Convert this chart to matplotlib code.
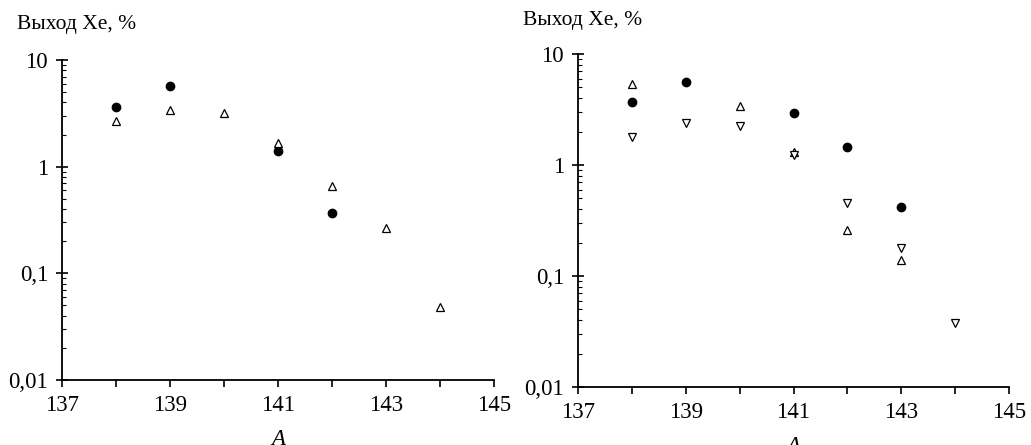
import matplotlib.pyplot as plt
from matplotlib.ticker import FixedLocator, LogLocator, NullFormatter

plt.rcParams['font.family'] = ['Liberation Serif', 'DejaVu Serif']

# left panel
a_left_circ = [138, 139, 141, 142]
y_left_circ = [3.6, 5.75, 1.40, 0.366]
a_left_up = [138, 139, 140, 141, 142, 143, 144]
y_left_up = [2.7, 3.42, 3.16, 1.66, 0.66, 0.268, 0.048]

# right panel
a_right_circ = [138, 139, 141, 142, 143]
y_right_circ = [3.69, 5.62, 2.93, 1.44, 0.416]
a_right_up = [138, 140, 141, 142, 143]
y_right_up = [5.36, 3.37, 1.32, 0.26, 0.139]
a_right_down = [138, 139, 140, 141, 142, 143, 144]
y_right_down = [1.78, 2.4, 2.25, 1.22, 0.45, 0.177, 0.0376]

y_ticks = [0.01, 0.1, 1, 10]
y_labels = ['0,01', '0,1', '1', '10']
x_ticks = [137, 139, 141, 143, 145]

W, H = 1031, 445
fig = plt.figure(figsize=(W / 100, H / 100), dpi=100)
ax1 = fig.add_axes([62 / W, 1 - 380 / H, (494 - 62) / W, (380 - 60) / H])
ax2 = fig.add_axes([578 / W, 1 - 387 / H, (1009 - 578) / W, (387 - 54) / H])

fs = 16.5
for ax in (ax1, ax2):
    ax.set_yscale('log')
    ax.set_xlim(137, 145)
    ax.set_ylim(0.01, 10)
    ax.spines['top'].set_visible(False)
    ax.spines['right'].set_visible(False)
    ax.spines['left'].set_linewidth(1.3)
    ax.spines['bottom'].set_linewidth(1.3)
    ax.xaxis.set_major_locator(FixedLocator(x_ticks))
    ax.xaxis.set_minor_locator(FixedLocator([138, 140, 142, 144]))
    ax.set_xticklabels([str(t) for t in x_ticks])
    ax.yaxis.set_major_locator(FixedLocator(y_ticks))
    ax.set_yticklabels(y_labels)
    ax.yaxis.set_minor_locator(LogLocator(base=10, subs=range(2, 10)))
    ax.yaxis.set_minor_formatter(NullFormatter())
    ax.tick_params(axis='x', which='both', direction='out', length=5, width=1.2, labelsize=fs, pad=6)
    ax.tick_params(axis='y', which='major', direction='inout', length=8, width=1.2, labelsize=fs, pad=6)
    ax.tick_params(axis='y', which='minor', direction='in', length=3, width=0.8)
    ax.set_xlabel('A', fontsize=fs, style='italic', labelpad=9)

ax1.plot(a_left_circ, y_left_circ, 'o', ls='none', color='black', markersize=6)
ax1.plot(a_left_up, y_left_up, '^', ls='none', mfc='white', mec='black', mew=0.9, markersize=6)

ax2.plot(a_right_circ, y_right_circ, 'o', ls='none', color='black', markersize=6)
ax2.plot(a_right_up, y_right_up, '^', ls='none', mfc='white', mec='black', mew=0.9, markersize=6)
ax2.plot(a_right_down, y_right_down, 'v', ls='none', mfc='white', mec='black', mew=0.9, markersize=6)

fig.text(17 / W, 1 - 25 / H, 'Выход Xe, %', fontsize=15.5, va='center', ha='left')
fig.text(523 / W, 1 - 21 / H, 'Выход Xe, %', fontsize=15.5, va='center', ha='left')

fig.savefig('out.png', dpi=100)
